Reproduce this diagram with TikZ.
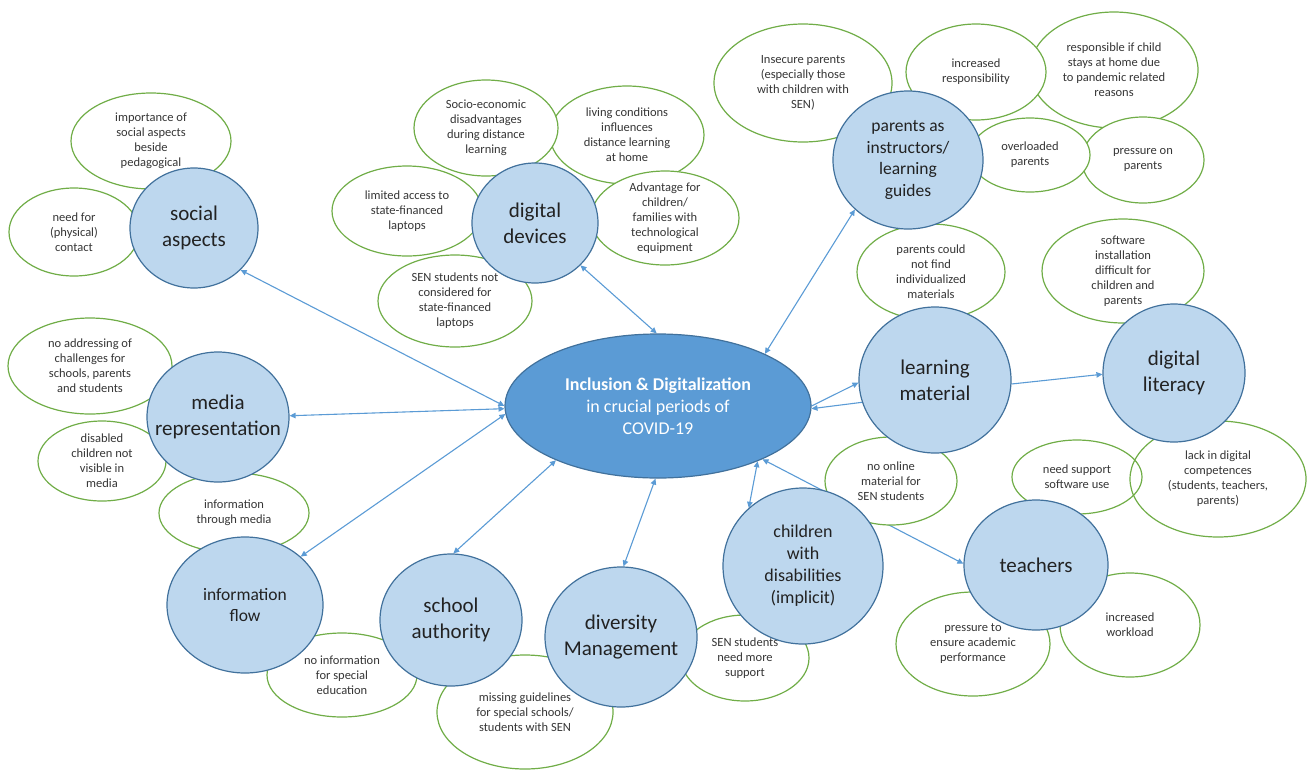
\documentclass[tikz,border=0pt]{standalone}
\usepackage{fontspec}
\setmainfont{Carlito}
\usetikzlibrary{shapes.geometric,arrows.meta}
\pgfdeclarelayer{bg}
\pgfsetlayers{bg,main}
\definecolor{cblue}{HTML}{5B9BD5}
\definecolor{lblue}{HTML}{BDD7EE}
\definecolor{bord}{HTML}{41719C}
\definecolor{grn}{HTML}{70AD47}
\definecolor{txt}{HTML}{363636}
\definecolor{btxt}{HTML}{222222}
\newcommand\smallf{\fontsize{12.5}{15}\selectfont}
\newcommand\bigf{\fontsize{21}{26}\selectfont}
\newcommand\midf{\fontsize{17.5}{21.5}\selectfont}
\newcommand\cenf{\fontsize{18}{22}\selectfont}
\begin{document}
\begin{tikzpicture}[x=1pt,y=-1pt,
 sub/.style={ellipse, draw=grn, line width=1.2pt, fill=white, align=center, text=txt, font=\smallf, inner xsep=-8pt, inner ysep=-4pt},
 subopen/.style={sub, fill=none},
 topic/.style={ellipse, draw=bord, line width=1.2pt, fill=lblue, align=center, text=btxt, font=\bigf, inner xsep=-25pt, inner ysep=-12pt},
 sz/.style 2 args={minimum width=#1pt, minimum height=#2pt},
 conn/.style={draw=cblue, line width=1.1pt},
 >={Triangle[length=6pt,width=5.5pt]}]
\useasboundingbox (0,0) rectangle (1309,772);

% green sub-topic ellipses
\node[sub, sz={160}{96}] (s1) at (151,141) {importance of\\social aspects\\beside\\pedagogical};
\node[sub, sz={130}{88}] (s2) at (74,232) {need for\\(physical)\\contact};
\node[sub, sz={154}{98}] (d2) at (627,135) {living conditions\\influences\\distance learning\\at home};
\node[sub, sz={144}{96}] (d1) at (486,128) {Socio-economic\\disadvantages\\during distance\\learning};
\node[sub, sz={148}{94}] (d4) at (665,218) {Advantage for\\children/\\families with\\technological\\equipment};
\node[sub, sz={154}{92}] (d5) at (455,301) {SEN students not\\considered for\\state-financed\\laptops};
\node[sub, sz={150}{90}] (d3) at (407,211) {limited access to\\state-financed\\laptops};
\node[sub, sz={178}{118}] (p1) at (803,83) {Insecure parents\\(especially those\\with children with\\SEN)};
\node[sub, sz={168}{116}] (p3) at (1114,70) {responsible if child\\stays at home due\\to pandemic related\\reasons};
\node[sub, sz={140}{96}] (p2) at (976,72) {increased\\responsibility};
\node[sub, sz={122}{86}] (p5) at (1143,160) {pressure on\\parents};
\node[sub, sz={120}{74}] (p4) at (1030,155) {overloaded\\parents};
\node[sub, sz={148}{96}] (l1) at (931,272) {parents could\\not find\\individualized\\materials};
\node[sub, sz={132}{88}] (l2) at (891,481) {no online\\material for\\SEN students};
\node[sub, sz={162}{104}] (g1) at (1123,271) {software\\installation\\difficult for\\children and\\parents};
\node[subopen, sz={130}{74}] (g2) at (1077,477) {need support\\software use};
\node[subopen, sz={176}{116}] (g3) at (1218,479) {lack in digital\\competences\\(students, teachers,\\parents)};
\node[sub, sz={154}{104}] (t1) at (973,644) {pressure to\\ensure academic\\performance};
\node[sub, sz={140}{104}] (t2) at (1130,625) {increased\\workload};
\node[sub, sz={128}{86}] (k1) at (745,658) {SEN students\\need more\\support};
\node[sub, sz={164}{96}] (m1) at (90,366) {no addressing of\\challenges for\\schools, parents\\and students};
\node[sub, sz={128}{80}] (m2) at (102,461) {disabled\\children not\\visible in\\media};
\node[sub, sz={150}{80}] (m3) at (234,513) {information\\through media};
\node[sub, sz={150}{84}] (i1) at (342,675) {no information\\for special\\education};
\node[sub, sz={176}{114}] (a1) at (525,712) {missing guidelines\\for special schools/\\students with SEN};

% blue topic circles
\node[topic, sz={128}{120}] (soc) at (194,228) {social\\aspects};
\node[topic, sz={126}{120}] (dev) at (535,223) {digital\\devices};
\node[topic, sz={150}{138}, font=\midf] (par) at (908,160) {parents as\\instructors/\\learning\\guides};
\node[topic, sz={152}{146}] (lm) at (935,380) {learning\\material};
\node[topic, sz={142}{138}] (dl) at (1174,373) {digital\\literacy};
\node[topic, sz={144}{130}] (tea) at (1036,565) {teachers};
\node[topic, sz={160}{156}, font=\cenf] (chi) at (803,566) {children\\with\\disabilities\\(implicit)};
\node[topic, sz={152}{140}] (div) at (621,637) {diversity\\Management};
\node[topic, sz={142}{132}] (sch) at (451,620) {school\\authority};
\node[topic, sz={156}{136}, font=\midf] (inf) at (245,605) {information\\flow};
\node[topic, sz={142}{130}] (med) at (218,417) {media\\representation};

% central node
\node[ellipse, draw=bord, line width=1.2pt, fill=cblue, text=white, align=center, font=\cenf, inner xsep=-20pt, inner ysep=-10pt, sz={306}{144}] (c) at (658,406) {\textbf{Inclusion \& Digitalization}\\in crucial periods of\\COVID-19};

% connectors
\begin{pgfonlayer}{bg}
\draw[conn,<->] (soc.-42) -- (c.180);
\draw[conn,<->] (med.1) -- (c.181);
\draw[conn,<->] (inf.41) -- (c.183);
\draw[conn,<->] (sch.88) -- (c.208);
\draw[conn,<->] (div.88) -- (c.268);
\draw[conn,<->] (chi.133) -- (c.-29);
\draw[conn,<->] (tea.179) -- (c.-27);
\draw[conn,->] (c.0) -- (lm.182);
\draw[conn,->] (lm.197) -- (c.-1);
\draw[conn,->] (lm.-3) -- (dl.181);
\draw[conn,<->] (dev.-43) -- (c.91);
\draw[conn,<->] (par.223) -- (c.26);
\end{pgfonlayer}
\end{tikzpicture}
\end{document}
